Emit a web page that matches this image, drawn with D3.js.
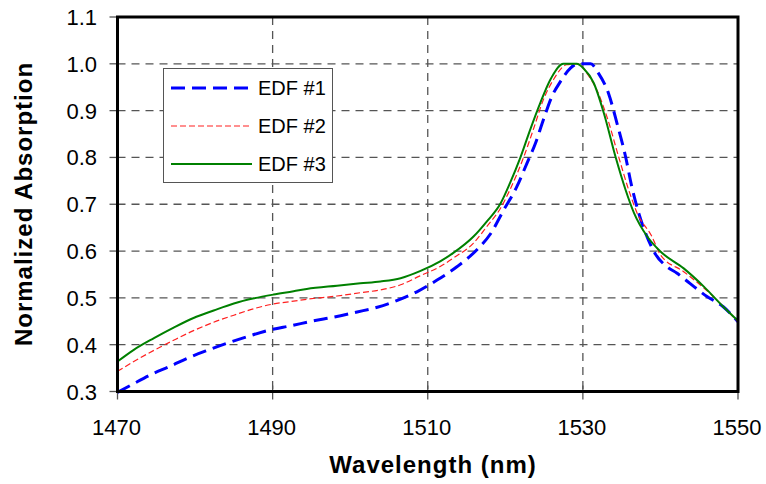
<!DOCTYPE html>
<html>
<head>
<meta charset="utf-8">
<script src="https://cdn.jsdelivr.net/npm/d3@7"></script>
<style>
  body { margin: 0; background: #fff; }
  svg { display: block; font-family: "Liberation Sans", Arial, sans-serif; }
</style>
</head>
<body>
<svg id="chart" width="766" height="484"></svg>
<script>
// EDF #1 (blue, long dash)
const wl1 = [1470, 1472, 1474.3, 1476.8, 1479, 1481.6, 1484.1, 1486.7, 1489.3, 1492.5, 1495.3, 1497.9, 1500.9, 1503.5, 1506, 1508.6, 1511.2, 1513.8, 1516.4, 1518.1, 1519.8, 1521.5, 1522.8, 1523.9, 1524.9, 1526, 1527.1, 1528.4, 1529.4, 1531, 1532, 1533.3, 1534.4, 1535.5, 1536.3, 1537.2, 1538, 1539.3, 1540.8, 1542.1, 1543.8, 1546, 1548.1, 1550];
const abs1 = [0.298, 0.316, 0.336, 0.354, 0.371, 0.388, 0.403, 0.417, 0.430, 0.441, 0.451, 0.459, 0.470, 0.480, 0.494, 0.513, 0.538, 0.567, 0.604, 0.637, 0.688, 0.738, 0.788, 0.831, 0.880, 0.930, 0.962, 0.991, 1.0, 1.0, 0.98, 0.937, 0.873, 0.802, 0.738, 0.681, 0.642, 0.595, 0.567, 0.553, 0.531, 0.503, 0.481, 0.449];

// EDF #2 (red, short dash)
const wl2 = [1470, 1472.1, 1474.7, 1477.3, 1479.8, 1482.4, 1485, 1487.6, 1490.1, 1492.7, 1494.4, 1498.3, 1501.3, 1503.9, 1506.5, 1509, 1511.6, 1513.3, 1515.9, 1517.6, 1519.4, 1520.6, 1522.4, 1523.6, 1524.9, 1526.2, 1527.9, 1529.4, 1530.5, 1531.8, 1533.1, 1534.6, 1535.9, 1537, 1538.9, 1540, 1543, 1545.6, 1550];
const abs2 = [0.343, 0.364, 0.388, 0.410, 0.430, 0.448, 0.463, 0.477, 0.487, 0.493, 0.497, 0.504, 0.511, 0.517, 0.528, 0.547, 0.567, 0.585, 0.617, 0.652, 0.692, 0.731, 0.802, 0.859, 0.923, 0.966, 0.998, 1.0, 0.98, 0.944, 0.887, 0.802, 0.731, 0.681, 0.631, 0.592, 0.556, 0.521, 0.449];

// EDF #3 (green, solid)
const wl3 = [1470, 1472.1, 1474.7, 1477.3, 1479.8, 1482.4, 1485, 1487.6, 1490.1, 1492.7, 1494.4, 1498.3, 1501.3, 1503.9, 1506.5, 1509, 1511.6, 1513.3, 1515.9, 1517.6, 1519.4, 1520.6, 1521.9, 1523.2, 1524.5, 1525.8, 1527.5, 1529.2, 1530.1, 1531.4, 1532.7, 1534.2, 1535.5, 1536.6, 1538.3, 1540, 1543, 1545.6, 1548.1, 1550];
const abs3 = [0.364, 0.389, 0.414, 0.437, 0.457, 0.473, 0.488, 0.499, 0.507, 0.514, 0.519, 0.526, 0.531, 0.535, 0.542, 0.557, 0.578, 0.596, 0.631, 0.663, 0.702, 0.745, 0.798, 0.859, 0.916, 0.966, 1.0, 1.0, 0.99, 0.959, 0.895, 0.802, 0.731, 0.681, 0.631, 0.599, 0.563, 0.524, 0.481, 0.451];

const seriesNames = ["EDF #1", "EDF #2", "EDF #3"];
const xTicks = [1470, 1490, 1510, 1530, 1550];
const yTicks = [0.3, 0.4, 0.5, 0.6, 0.7, 0.8, 0.9, 1.0, 1.1];

const series = [
  { name: seriesNames[0], wl: wl1, v: abs1, color: "#0000ff", width: 3, dash: "14,7" },
  { name: seriesNames[1], wl: wl2, v: abs2, color: "#ff2020", width: 1.2, dash: "6,3" },
  { name: seriesNames[2], wl: wl3, v: abs3, color: "#008000", width: 2, dash: null }
];

const svg = d3.select("#chart");
const x = d3.scaleLinear().domain([1470, 1550]).range([117.5, 738]);
const y = d3.scaleLinear().domain([0.3, 1.1]).range([391.5, 17]);

// grid
svg.append("g")
  .selectAll("line")
  .data(yTicks.slice(1, -1))
  .join("line")
  .attr("x1", x(1470)).attr("x2", x(1550))
  .attr("y1", d => y(d)).attr("y2", d => y(d))
  .attr("stroke", "#555").attr("stroke-width", 1.3).attr("stroke-dasharray", "8,6");

svg.append("g")
  .selectAll("line")
  .data(xTicks.slice(1, -1))
  .join("line")
  .attr("x1", d => x(d)).attr("x2", d => x(d))
  .attr("y1", y(1.1)).attr("y2", y(0.3))
  .attr("stroke", "#555").attr("stroke-width", 1.3).attr("stroke-dasharray", "8,6");

// ticks
svg.append("g")
  .selectAll("line")
  .data(yTicks)
  .join("line")
  .attr("x1", x(1470) - 8).attr("x2", x(1470))
  .attr("y1", d => y(d)).attr("y2", d => y(d))
  .attr("stroke", "#555").attr("stroke-width", 1.3);

svg.append("g")
  .selectAll("line")
  .data(xTicks)
  .join("line")
  .attr("x1", d => x(d)).attr("x2", d => x(d))
  .attr("y1", y(0.3) - 6).attr("y2", y(0.3) + 8)
  .attr("stroke", "#555").attr("stroke-width", 1.3);

// curves
svg.append("clipPath").attr("id", "clip")
  .append("rect")
  .attr("x", x(1470) - 4).attr("y", y(1.1))
  .attr("width", x(1550) - x(1470) + 4).attr("height", y(0.3) - y(1.1) + 3);

const line = d3.line()
  .x(d => x(d[0]))
  .y(d => y(d[1]))
  .curve(d3.curveMonotoneX);

svg.append("g").attr("clip-path", "url(#clip)")
  .selectAll("path")
  .data(series)
  .join("path")
  .attr("d", s => line(s.wl.map((w, i) => [w, s.v[i]])))
  .attr("fill", "none")
  .attr("stroke", s => s.color)
  .attr("stroke-width", s => s.width)
  .attr("stroke-dasharray", s => s.dash);

// frame
svg.append("rect")
  .attr("x", x(1470)).attr("y", y(1.1))
  .attr("width", x(1550) - x(1470)).attr("height", y(0.3) - y(1.1))
  .attr("fill", "none").attr("stroke", "#000").attr("stroke-width", 3);

// tick labels
svg.append("g")
  .selectAll("text")
  .data(yTicks)
  .join("text")
  .attr("x", 97).attr("y", d => y(d) + 8)
  .attr("text-anchor", "end")
  .attr("font-size", 22)
  .attr("fill", "#000")
  .text(d => d3.format(".1f")(d));

svg.append("g")
  .selectAll("text")
  .data(xTicks)
  .join("text")
  .attr("x", d => x(d) - 1).attr("y", 435)
  .attr("text-anchor", "middle")
  .attr("font-size", 22)
  .attr("fill", "#000")
  .text(d => d);

// axis titles
svg.append("text")
  .attr("x", 433).attr("y", 473)
  .attr("text-anchor", "middle")
  .attr("font-size", 24).attr("font-weight", "bold")
  .attr("letter-spacing", 1)
  .text("Wavelength (nm)");

svg.append("text")
  .attr("transform", "translate(32,204) rotate(-90)")
  .attr("text-anchor", "middle")
  .attr("font-size", 24).attr("font-weight", "bold")
  .attr("letter-spacing", 1)
  .text("Normalized Absorption");

// legend
const legend = svg.append("g");
legend.append("rect")
  .attr("x", 163.5).attr("y", 68.5).attr("width", 169).attr("height", 114)
  .attr("fill", "#fff").attr("stroke", "#555").attr("stroke-width", 1);

const rows = legend.selectAll("g")
  .data(series)
  .join("g")
  .attr("transform", (d, i) => `translate(0,${88 + i * 38})`);

rows.append("line")
  .attr("x1", 171).attr("x2", 252)
  .attr("stroke", s => s.color)
  .attr("stroke-width", s => s.width)
  .attr("stroke-dasharray", s => s.dash);

rows.append("text")
  .attr("x", 258).attr("y", 7)
  .attr("font-size", 20)
  .text(s => s.name);
</script>
</body>
</html>
